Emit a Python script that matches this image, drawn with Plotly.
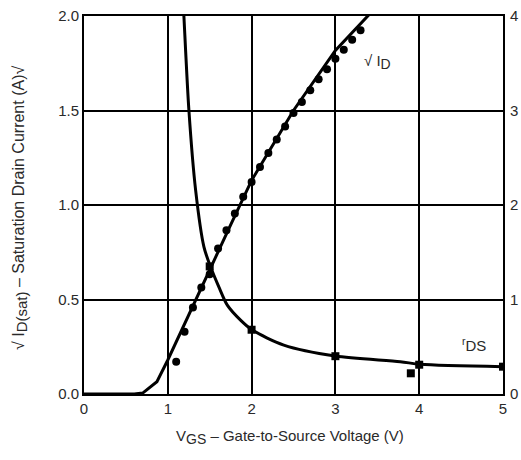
import plotly.graph_objects as go

# sqrt(ID) fitted line
sqrt_line_x = [0, 0.6, 0.7, 0.79, 0.87, 1.0, 1.25, 1.5, 1.75, 2.0, 2.5, 3.0, 3.45]
sqrt_line_y = [0, 0, 0.005, 0.035, 0.065, 0.18, 0.42, 0.655, 0.895, 1.13, 1.50, 1.818, 2.03]

# sqrt(ID) measured dots
sqrt_dot_x = [1.1, 1.2, 1.3, 1.4, 1.5, 1.6, 1.7, 1.8, 1.9, 2.0, 2.1, 2.2, 2.3, 2.4, 2.5,
              2.6, 2.7, 2.8, 2.9, 3.0, 3.1, 3.2, 3.3]
sqrt_dot_y = [0.171, 0.329, 0.458, 0.564, 0.633, 0.770, 0.867, 0.955, 1.043, 1.122, 1.201,
              1.275, 1.346, 1.416, 1.487, 1.545, 1.607, 1.665, 1.718, 1.774, 1.822, 1.875, 1.924]

# rDS curve (right axis)
rds_line_x = [1.18, 1.192, 1.252, 1.332, 1.431, 1.51, 1.609, 1.71, 1.868, 2.008, 2.384, 2.999, 3.774, 4.013, 5.0]
rds_line_y = [4.2, 4.0, 3.0, 2.157, 1.557, 1.346, 1.134, 0.941, 0.782, 0.677, 0.518, 0.402, 0.342, 0.314, 0.289]

# rDS measured squares
rds_pt_x = [1.5, 2.0, 3.0, 3.9, 4.0, 5.0]
rds_pt_y = [1.35, 0.68, 0.40, 0.219, 0.31, 0.289]

x_ticks = [0, 1, 2, 3, 4, 5]
y_ticks = [0.0, 0.5, 1.0, 1.5, 2.0]
y2_ticks = [0, 1, 2, 3, 4]

x_title = "V<sub><span style='font-size:14px'>GS</span></sub> – Gate-to-Source Voltage (V)"
y_title = "√ I<sub><span style='font-size:15px'>D(sat)</span></sub> – Saturation Drain Current (A)√"
label_sqrt = "√ I<sub><span style='font-size:14px'>D</span></sub>"
label_rds = "<sup>r</sup>DS"

FONT = "Liberation Sans, Arial, sans-serif"
TXT = "#2a2a2a"

fig = go.Figure()
fig.add_trace(go.Scatter(x=sqrt_line_x, y=sqrt_line_y, mode="lines",
                         line=dict(color="black", width=3), showlegend=False))
fig.add_trace(go.Scatter(x=sqrt_dot_x, y=sqrt_dot_y, mode="markers",
                         marker=dict(color="black", size=8, symbol="circle"), showlegend=False))
fig.add_trace(go.Scatter(x=rds_line_x, y=rds_line_y, mode="lines", yaxis="y2",
                         line=dict(color="black", width=3, shape="spline", smoothing=0.8),
                         showlegend=False))
fig.add_trace(go.Scatter(x=rds_pt_x, y=rds_pt_y, mode="markers", yaxis="y2",
                         marker=dict(color="black", size=8, symbol="square"), showlegend=False))

fig.update_layout(
    width=521, height=460,
    margin=dict(l=84, r=18, t=16, b=66, autoexpand=False),
    paper_bgcolor="white", plot_bgcolor="white",
    font=dict(family=FONT, size=15, color=TXT),
    xaxis=dict(range=[0, 5], tickvals=x_ticks, ticktext=[str(v) for v in x_ticks],
               showgrid=True, gridcolor="black", gridwidth=2, zeroline=False,
               showline=True, linecolor="black", linewidth=2, mirror=True, ticks="",
               tickfont=dict(size=15), automargin=False),
    yaxis=dict(range=[0, 2], tickvals=y_ticks, ticktext=[f"{v:.1f}" for v in y_ticks],
               showgrid=True, gridcolor="black", gridwidth=2, zeroline=False,
               showline=True, linecolor="black", linewidth=2, mirror=True, ticks="",
               tickfont=dict(size=15), automargin=False),
    yaxis2=dict(range=[0, 4], overlaying="y", side="right", tickvals=y2_ticks,
                ticktext=[str(v) for v in y2_ticks], showgrid=False, zeroline=False,
                showline=False, ticks="", ticklabelstandoff=6, tickfont=dict(size=15),
                automargin=False),
    annotations=[
        dict(x=3.32, y=1.755, xref="x", yref="y", text=label_sqrt, showarrow=False,
             xanchor="left", yanchor="middle", font=dict(size=15, color=TXT)),
        dict(x=4.49, y=0.264, xref="x", yref="y", text=label_rds, showarrow=False,
             xanchor="left", yanchor="middle", font=dict(size=15, color=TXT)),
    ],
)

# axis titles placed in pixel positions converted to paper coords
pw, ph = 521 - 84 - 18, 460 - 16 - 66
fig.add_annotation(x=(290 - 84) / pw, y=(460 - 66 - 437) / ph, xref="paper", yref="paper",
                   text=x_title, showarrow=False, xanchor="center", yanchor="middle",
                   font=dict(size=15, color=TXT))
fig.add_annotation(x=(20 - 84) / pw, y=(394 - 208) / ph, xref="paper", yref="paper",
                   text=y_title, textangle=-90, showarrow=False,
                   xanchor="center", yanchor="middle", font=dict(size=16, color=TXT))

fig.write_html("out.html")
